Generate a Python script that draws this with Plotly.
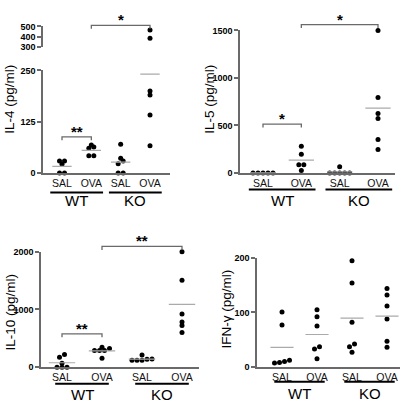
import numpy as np
import plotly.graph_objects as go

W, H = 406, 419

# ---------------- data ----------------
group_labels = ["SAL", "OVA", "SAL", "OVA"]
genotypes = ["WT", "KO"]

il4_wt_sal = [0, 0, 21, 29, 29]
il4_wt_ova = [63, 60, 68, 42, 42]
il4_ko_sal = [70, 36, 29, 22, 0, 0]
il4_ko_ova = [465, 384, 200, 190, 141, 66]

il5_wt_sal = [0, 0, 0, 0, 0]
il5_wt_ova = [281, 195, 86, 86, 24]
il5_ko_sal = [0, 0, 0, 0, 0, 65]
il5_ko_ova = [1500, 794, 626, 572, 352, 246]

il10_wt_sal = [220, 170, 68, 0, 0, 0]
il10_wt_ova = [322, 288, 288, 288, 344, 153]
il10_ko_sal = [136, 209, 119, 119, 119, 141]
il10_ko_ova = [2000, 1503, 921, 780, 723, 599]

ifng_wt_sal = [101, 77, 10, 7, 8, 12]
ifng_wt_ova = [105, 92, 75, 37, 33, 15]
ifng_ko_sal = [195, 154, 82, 42, 37, 27]
ifng_ko_ova = [144, 132, 112, 88, 47, 36]

il4_ticks_low = [0, 125, 250]
il4_ticks_high = [300, 400, 500]
il5_ticks = [0, 500, 1000, 1500]
il10_ticks = [0, 1000, 2000]
ifng_ticks = [0, 100, 200]

# ---------------- layout / style ----------------
AX = "#6a6a6a"
MEAN_C = "#aaaaaa"
FONT = "Liberation Sans, Arial, sans-serif"

panels = [
    dict(title="IL-4 (pg/ml)", data=[il4_wt_sal, il4_wt_ova, il4_ko_sal, il4_ko_ova],
         xpx=(43, 170), cpx=(62, 150),
         segs=[dict(r=(0, 250), px=(172, 67), ticks=il4_ticks_low),
               dict(r=(300, 500), px=(43, 22), ticks=il4_ticks_high)],
         brackets=[(0, 1, "**", 88, 0), (1, 3, "*", 510, 1)],
         title_xy=(10, 97), under_y=192, under_ext=0.4, group_y=200),
    dict(title="IL-5 (pg/ml)", data=[il5_wt_sal, il5_wt_ova, il5_ko_sal, il5_ko_ova],
         xpx=(240, 395), cpx=(263, 378),
         segs=[dict(r=(0, 1500), px=(172, 26), ticks=il5_ticks)],
         brackets=[(0, 1, "*", 513, 0), (1, 3, "*", 1560, 0)],
         title_xy=(210, 97), under_y=189, under_ext=0.37, group_y=200),
    dict(title="IL-10 (pg/ml)", data=[il10_wt_sal, il10_wt_ova, il10_ko_sal, il10_ko_ova],
         xpx=(41, 199), cpx=(62, 182),
         segs=[dict(r=(0, 2000), px=(371, 252.7), ticks=il10_ticks)],
         brackets=[(0, 1, "**", 576, 0), (1, 3, "**", 2090, 0)],
         title_xy=(10, 315), under_y=388, under_ext=0.17, group_y=399),
    dict(title="IFN-γ (pg/ml)", data=[ifng_wt_sal, ifng_wt_ova, ifng_ko_sal, ifng_ko_ova],
         xpx=(257, 400), cpx=(282, 387),
         segs=[dict(r=(0, 200), px=(370.7, 259.3), ticks=ifng_ticks)],
         brackets=[],
         title_xy=(227, 312), under_y=386, under_ext=0.22, group_y=398),
]

DOT_PX = 5.0      # horizontal step between neighbouring dots
ROW_PX = 3.0      # vertical closeness that puts dots in one row
MEAN_HW = 0.33    # half width of mean line, category units


def swarm(vals, ppu, step):
    vals = np.asarray(vals, dtype=float)
    order = np.argsort(vals, kind="stable")
    offs = np.zeros(len(vals))
    rows, cur = [], []
    for idx in order:
        if cur and (vals[idx] - vals[cur[0]]) * ppu > ROW_PX:
            rows.append(cur)
            cur = []
        cur.append(idx)
    if cur:
        rows.append(cur)
    for r in rows:
        n = len(r)
        for k, idx in enumerate(r):
            offs[idx] = (k - (n - 1) / 2) * step
    return offs


fig = go.Figure()
layout = dict(width=W, height=H, margin=dict(l=0, r=0, t=0, b=0),
              paper_bgcolor="white", plot_bgcolor="white", showlegend=False,
              font=dict(family=FONT, color="black"))
shapes, annotations = [], []

yidx = 0
for pi, P in enumerate(panels):
    xi = pi + 1
    spacing = (P["cpx"][1] - P["cpx"][0]) / 3.0
    xr = ((P["xpx"][0] - P["cpx"][0]) / spacing, (P["xpx"][1] - P["cpx"][0]) / spacing)
    xname = "x" if xi == 1 else f"x{xi}"
    xkey = "xaxis" if xi == 1 else f"xaxis{xi}"

    def xp(v, P=P, xr=xr):
        return (P["xpx"][0] + (v - xr[0]) / (xr[1] - xr[0]) * (P["xpx"][1] - P["xpx"][0])) / W

    seg_axes = []
    for s in P["segs"]:
        yidx += 1
        yname = "y" if yidx == 1 else f"y{yidx}"
        ykey = "yaxis" if yidx == 1 else f"yaxis{yidx}"
        seg_axes.append(yname)
        layout[ykey] = dict(domain=[1 - s["px"][0] / H, 1 - s["px"][1] / H], range=list(s["r"]),
                            anchor=xname, showline=True, linecolor=AX, linewidth=1.5,
                            ticks="outside", ticklen=4, tickwidth=1.5, tickcolor=AX,
                            tickmode="array", tickvals=s["ticks"],
                            tickfont=dict(size=9, family=FONT, color="black", weight="bold"),
                            showgrid=False, zeroline=False, fixedrange=True)
    layout[xkey] = dict(domain=[P["xpx"][0] / W, P["xpx"][1] / W], range=list(xr),
                        anchor=seg_axes[0], showline=True, linecolor=AX, linewidth=1.5,
                        ticks="", tickmode="array", tickvals=[0, 1, 2, 3], ticktext=group_labels,
                        tickfont=dict(size=10.5, family=FONT, color="#111111"),
                        showgrid=False, zeroline=False, fixedrange=True)

    def seg_of(v, P=P):
        if len(P["segs"]) > 1 and v > P["segs"][0]["r"][1]:
            return 1
        return 0

    def yp(v, k, P=P):
        s = P["segs"][k]
        frac = (v - s["r"][0]) / (s["r"][1] - s["r"][0])
        py = s["px"][0] + frac * (s["px"][1] - s["px"][0])
        return 1 - py / H

    for gi, vals in enumerate(P["data"]):
        vals = np.asarray(vals, dtype=float)
        for k in range(len(P["segs"])):
            sel = np.array([seg_of(v) == k for v in vals])
            if not sel.any():
                continue
            s = P["segs"][k]
            ppu = abs(s["px"][0] - s["px"][1]) / (s["r"][1] - s["r"][0])
            offs = swarm(vals[sel], ppu, DOT_PX / spacing)
            fig.add_trace(go.Scatter(x=gi + offs, y=vals[sel], xaxis=xname, yaxis=seg_axes[k],
                                     mode="markers", cliponaxis=False, hoverinfo="skip",
                                     marker=dict(size=5, color="black", line=dict(width=0))))
        m = float(np.mean(vals))
        k = seg_of(m)
        fig.add_trace(go.Scatter(x=[gi - MEAN_HW, gi + MEAN_HW], y=[m, m], xaxis=xname,
                                 yaxis=seg_axes[k], mode="lines", hoverinfo="skip",
                                 line=dict(color=MEAN_C, width=1.2)))

    # significance brackets
    for (a, b, lab, lev, k) in P["brackets"]:
        yb = yp(lev, k)
        tick = 3.5 / H
        x0, x1 = xp(a), xp(b)
        shapes.append(dict(type="path", xref="paper", yref="paper",
                           path=f"M {x0},{yb - tick} L {x0},{yb} L {x1},{yb} L {x1},{yb - tick}",
                           line=dict(color=AX, width=1.3)))
        annotations.append(dict(x=(x0 + x1) / 2, y=yb + 1.0 / H, xref="paper", yref="paper",
                                text=lab, showarrow=False, xanchor="center", yanchor="bottom",
                                font=dict(size=15, family=FONT, color="black", weight="bold"),
                                yshift=-6))

    # genotype underlines and labels
    for g, gname in enumerate(genotypes):
        c0, c1 = 2 * g, 2 * g + 1
        uy = 1 - P["under_y"] / H
        ext = P["under_ext"]
        shapes.append(dict(type="line", xref="paper", yref="paper",
                           x0=xp(c0 - ext), x1=xp(c1 + ext), y0=uy, y1=uy,
                           line=dict(color="black", width=2)))
        annotations.append(dict(x=xp((c0 + c1) / 2), y=1 - P["group_y"] / H, xref="paper",
                                yref="paper", text=gname, showarrow=False, xanchor="center",
                                yanchor="middle", font=dict(size=15, family=FONT, color="black")))

    annotations.append(dict(x=P["title_xy"][0] / W, y=1 - P["title_xy"][1] / H, xref="paper",
                            yref="paper", text=P["title"], showarrow=False, textangle=-90,
                            xanchor="center", yanchor="middle",
                            font=dict(size=13.5, family=FONT, color="black")))

layout["shapes"] = shapes
layout["annotations"] = annotations
fig.update_layout(**layout)
fig.write_html("out.html", config={"displayModeBar": False},
               post_script="document.body.style.margin='0px';"
                           "document.documentElement.style.overflow='hidden';")
